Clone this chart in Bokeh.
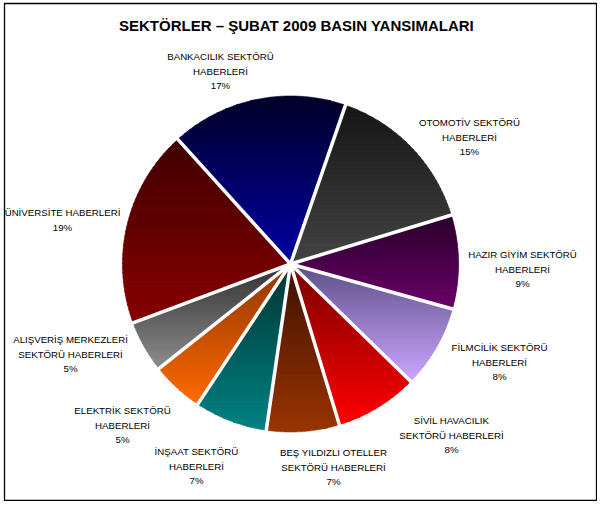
import numpy as np
from bokeh.plotting import figure
from bokeh.models import Range1d
from bokeh.core.properties import value
from bokeh.embed import file_html
from bokeh.resources import INLINE

# ---------------- data ----------------
title = "SEKTÖRLER – ŞUBAT 2009 BASIN YANSIMALARI"
categories = [
    "ÜNİVERSİTE HABERLERİ",
    "BANKACILIK SEKTÖRÜ\nHABERLERİ",
    "OTOMOTİV SEKTÖRÜ\nHABERLERİ",
    "HAZIR GİYİM SEKTÖRÜ\nHABERLERİ",
    "FİLMCİLİK SEKTÖRÜ\nHABERLERİ",
    "SİVİL HAVACILIK\nSEKTÖRÜ HABERLERİ",
    "BEŞ YILDIZLI OTELLER\nSEKTÖRÜ HABERLERİ",
    "İNŞAAT SEKTÖRÜ\nHABERLERİ",
    "ELEKTRİK SEKTÖRÜ\nHABERLERİ",
    "ALIŞVERİŞ MERKEZLERİ\nSEKTÖRÜ HABERLERİ",
]
values = [19, 17, 15, 9, 8, 8, 7, 7, 5, 5]

# ---------------- styles / layout ----------------
top_colors = ["#400000", "#000028", "#161616", "#2a002a", "#5e5088",
              "#7a0000", "#3c1200", "#003434", "#8c3400", "#303030"]
bottom_colors = ["#880000", "#0000a4", "#444444", "#6a006a", "#cba6ff",
                 "#ff0000", "#9a3400", "#008282", "#ff6a00", "#8e8e8e"]
label_x = [62, 220, 469, 522, 499, 451, 333, 196, 122, 70]
label_y = [212, 56, 122, 254, 347, 420, 452, 451, 410, 339]

# frame of the chart (page pixels)
FL, FT, FR, FB = 4, 3, 596, 500
CX, CY, R = 290.0, 263.5, 168.0
START = 249.5      # clockwise degrees from 12 o'clock
NBANDS = 40
LINE_H = 14.5

p = figure(width=FR + 1, height=FB + 1,
           x_range=Range1d(FL, FR), y_range=Range1d(-FB, -FT),
           output_backend="svg", toolbar_location=None,
           min_border_left=FL, min_border_top=FT, min_border_right=1, min_border_bottom=1)
p.axis.visible = False
p.grid.visible = False
p.outline_line_color = "black"
p.outline_line_width = 1.3
p.background_fill_color = "white"
p.border_fill_color = "white"


def hex2rgb(h):
    h = h.lstrip("#")
    return np.array([int(h[i:i + 2], 16) for i in (0, 2, 4)], dtype=float)


def mix(c1, c2, t):
    c = hex2rgb(c1) * (1 - t) + hex2rgb(c2) * t
    return "#%02x%02x%02x" % tuple(int(round(v)) for v in c)


def clip(pts, inside, cross):
    out = []
    n = len(pts)
    for i in range(n):
        cur, prev = pts[i], pts[i - 1]
        if inside(cur):
            if not inside(prev):
                out.append(cross(prev, cur))
            out.append(cur)
        elif inside(prev):
            out.append(cross(prev, cur))
    return out


def cross_at(yv):
    def f(a, b):
        t = (yv - a[1]) / (b[1] - a[1])
        return (a[0] + t * (b[0] - a[0]), yv)
    return f


def clip_band(pts, lo, hi):
    pts = clip(pts, lambda q: q[1] >= lo, cross_at(lo))
    if pts:
        pts = clip(pts, lambda q: q[1] <= hi, cross_at(hi))
    return pts


total = float(sum(values))
angles = [START]
for v in values:
    angles.append(angles[-1] + 360.0 * v / total)

xs_all, ys_all, cols = [], [], []
for i, v in enumerate(values):
    a1, a2 = np.radians(angles[i]), np.radians(angles[i + 1])
    arc = np.linspace(a1, a2, 120)
    pts = [(CX, CY)] + [(CX + R * np.sin(a), CY - R * np.cos(a)) for a in arc]
    ys = [q[1] for q in pts]
    ytop, ybot = min(ys), max(ys)
    h = (ybot - ytop) / NBANDS
    for k in range(NBANDS):
        lo = ytop + k * h
        hi = lo + h + 0.7
        band = clip_band(pts, lo, hi)
        if len(band) < 3:
            continue
        xs_all.append([q[0] for q in band])
        ys_all.append([-q[1] for q in band])
        cols.append(mix(top_colors[i], bottom_colors[i], (k + 0.5) / NBANDS))

p.patches(xs_all, ys_all, fill_color=cols, line_color=cols, line_width=0.6)

# white separators between slices
seg_a = np.radians(np.array(angles[:-1]))
p.segment(x0=[CX] * len(seg_a), y0=[-CY] * len(seg_a),
          x1=list(CX + (R + 3) * np.sin(seg_a)), y1=list(-(CY - (R + 3) * np.cos(seg_a))),
          line_color="white", line_width=3.5)

# labels
tx, ty, tt = [], [], []
for i, (cat, v) in enumerate(zip(categories, values)):
    lines = cat.split("\n") + ["%d%%" % v]
    for j, ln in enumerate(lines):
        tx.append(label_x[i])
        ty.append(-(label_y[i] + j * LINE_H))
        tt.append(ln)
p.text(x=tx, y=ty, text=tt, text_align="center", text_baseline="middle",
       text_font=value("Liberation Sans"), text_font_size="9.7px", text_color="black")

p.text(x=[296], y=[-25], text=[title], text_align="center", text_baseline="middle",
       text_font=value("Liberation Sans"), text_font_size="15px", text_font_style="bold",
       text_color="black")

open("out.html", "w").write(file_html(p, INLINE))
